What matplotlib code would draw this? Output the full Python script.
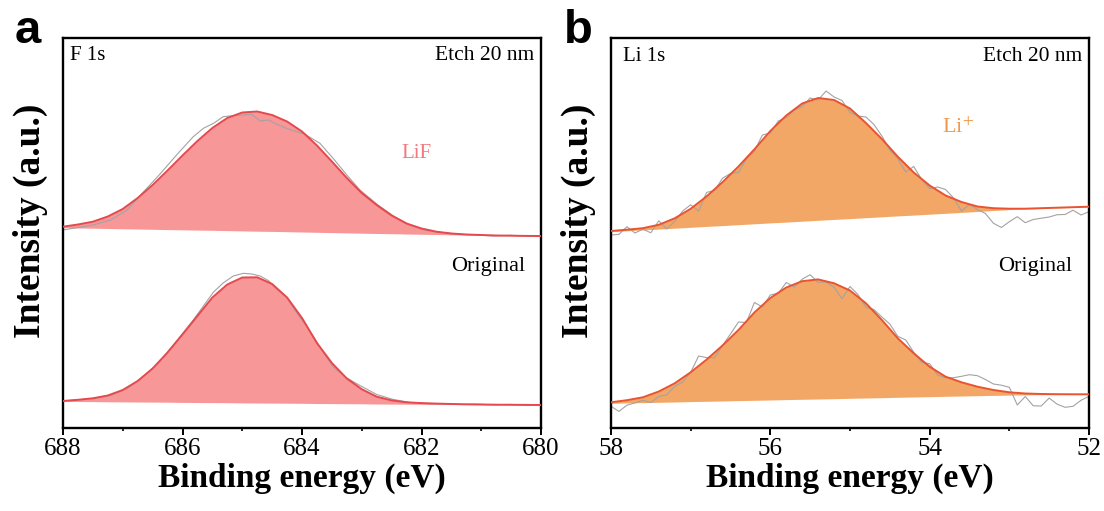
import numpy as np
import matplotlib
matplotlib.use("Agg")
import matplotlib.pyplot as plt

plt.rcParams["font.family"] = ["Liberation Serif", "DejaVu Serif"]
plt.rcParams["mathtext.fontset"] = "stix"

# ---- panel a: F 1s (binding energy in eV, intensity in arbitrary units) ----
fit_e_a = [688.0, 687.75, 687.5, 687.25, 687.0, 686.75, 686.5, 686.25, 686.0, 685.75,
           685.5, 685.25, 685.0, 684.75, 684.5, 684.25, 684.0, 683.75, 683.5, 683.25,
           683.0, 682.75, 682.5, 682.25, 682.0, 681.75, 681.5, 681.25, 681.0, 680.75,
           680.5, 680.25, 680.0]
fit_etch_a = [201.3, 203.5, 206.3, 211.5, 219, 230, 243, 257.5, 272.5, 287,
              300, 310, 315.5, 316.5, 313, 306.5, 296.5, 282.5, 266.5, 250,
              235, 223, 212.5, 204.5, 199.5, 196.3, 194.5, 193.5, 193, 192.5,
              192.3, 192.1, 192]
base_etch_a = [200.3, 200.0, 199.8, 199.5, 199.2, 199.0, 198.7, 198.4, 198.2, 197.9,
               197.7, 197.4, 197.1, 196.8, 196.6, 196.3, 196.0, 195.7, 195.4, 195.1,
               194.8, 194.5, 194.3, 194.0, 193.7, 193.5, 193.2, 193.0, 192.8, 192.6,
               192.4, 192.2, 192]
fit_orig_a = [27, 28.2, 29.7, 32.5, 38, 47, 59.5, 75.5, 93.5, 112,
              130.5, 143.5, 150.5, 150.7, 144, 130.5, 110, 85, 65, 49.5,
              38.8, 31.3, 27.6, 25.7, 24.9, 24.4, 24, 23.7, 23.5, 23.3,
              23.2, 23.1, 23]
base_orig_a = [26.6, 26.5, 26.4, 26.2, 26.1, 26.0, 25.9, 25.8, 25.6, 25.5,
               25.4, 25.3, 25.1, 25.0, 24.9, 24.8, 24.7, 24.5, 24.4, 24.3,
               24.2, 24.0, 23.9, 23.8, 23.7, 23.6, 23.5, 23.4, 23.3, 23.2,
               23.1, 23.05, 23]

raw_e_a = [688.0, 687.5, 687.2, 686.93, 686.66, 686.38, 686.1, 685.82, 685.65, 685.48,
           685.32, 685.15, 684.98, 684.84, 684.7, 684.56, 684.42, 684.26, 684.09, 683.95,
           683.7, 683.48, 683.25, 683.03, 682.75, 682.47, 682.19, 681.91, 681.64, 681.36,
           681.08, 680.8, 680.52, 680.24, 680.02]
raw_etch_a = [198, 203, 208, 218, 235.7, 253.7, 273, 291.3, 299.7, 304.7,
              311.3, 312.3, 313, 313.7, 307, 308, 303.7, 299.7, 296.3, 293.7,
              284.7, 269.7, 253, 238, 224, 212, 202.7, 197.3, 195.3, 193.7,
              193, 192, 192.7, 192, 192.3]
raw_orig_a = [27, 29.5, 32.5, 39.5, 51, 66.5, 87, 108, 122, 136,
              145, 152, 154.7, 154, 152, 147.3, 138.5, 131, 115, 104,
              81, 61, 50, 42.5, 33.5, 28.5, 25.5, 24.5, 24.2, 23.5,
              23.8, 23.2, 23.6, 23, 23.3]

# ---- panel b: Li 1s ----
fit_e_b = [58.0, 57.8, 57.6, 57.4, 57.2, 57.0, 56.8, 56.6, 56.4, 56.2,
           56.0, 55.8, 55.6, 55.4, 55.2, 55.0, 54.8, 54.6, 54.4, 54.2,
           54.0, 53.8, 53.6, 53.4, 53.2, 53.0, 52.8, 52.6, 52.4, 52.2, 52.0]
fit_etch_b = [197, 198.3, 199.8, 203.2, 209.7, 219.2, 231.6, 245.8, 261.5, 278.7,
              297, 312.5, 324.5, 330, 328, 319.5, 305, 289, 271.3, 255.5,
              242.5, 232.5, 226, 221.5, 219.8, 219.3, 219.3, 219.8, 220.3, 220.8, 221.3]
base_etch_b = [196.3, 197.2, 198.1, 198.9, 199.8, 200.7, 201.6, 202.4, 203.3, 204.2,
               205.1, 205.9, 206.8, 207.7, 208.6, 209.4, 210.3, 211.2, 212.1, 212.9,
               213.8, 214.7, 215.6, 216.5, 217.5, 218.4, 219.0, 219.6, 220.1, 220.6, 221.1]
fit_orig_b = [25.7, 27.8, 30.7, 36.5, 44.7, 55.7, 68.4, 82.5, 98, 115.5,
              130, 140.5, 146.8, 148.6, 144.7, 137.5, 124.7, 108, 89.7, 74.7,
              61.3, 51.3, 45.7, 41.3, 38, 35.7, 34.5, 34, 33.8, 33.7, 33.7]
base_orig_b = [24.7, 25.0, 25.4, 25.7, 26.0, 26.4, 26.7, 27.0, 27.4, 27.7,
               28.0, 28.4, 28.7, 29.0, 29.3, 29.7, 30.0, 30.3, 30.7, 31.0,
               31.3, 31.7, 32.0, 32.3, 32.6, 32.9, 33.1, 33.3, 33.4, 33.5, 33.6]

raw_e_b = [58.0, 57.9, 57.8, 57.7, 57.6, 57.5, 57.4, 57.3, 57.2, 57.1,
           57.0, 56.9, 56.8, 56.7, 56.6, 56.5, 56.4, 56.3, 56.2, 56.1,
           56.0, 55.9, 55.8, 55.7, 55.6, 55.5, 55.4, 55.3, 55.2, 55.1,
           55.0, 54.9, 54.8, 54.7, 54.6, 54.5, 54.4, 54.3, 54.2, 54.1,
           54.0, 53.9, 53.8, 53.7, 53.6, 53.5, 53.4, 53.3, 53.2, 53.1,
           53.0, 52.9, 52.8, 52.7, 52.6, 52.5, 52.4, 52.3, 52.2, 52.1, 52.0]
raw_etch_b = [193, 193.6, 201.3, 195, 198.8, 195.2, 207.2, 199, 206.7, 217,
              223.2, 217, 235.6, 237.5, 249.8, 254.5, 255.5, 269, 276.7, 293,
              295, 307, 310.5, 318, 321.5, 330, 328, 337, 331, 327.5,
              315.5, 312, 311, 303.5, 292, 278, 269.3, 256, 261.5, 248.5,
              239.5, 241, 238.5, 230, 217, 223.5, 218.5, 214.5, 204.8, 200.5,
              206.3, 211.3, 205.3, 208.5, 209.8, 211, 213.3, 213.5, 217.8, 213, 216.3]
raw_orig_b = [21.7, 16.6, 22.8, 25.1, 27.7, 25.3, 31.5, 33.3, 41.7, 46,
              55.7, 72, 70.4, 70.3, 82.5, 94, 106, 105.5, 125.5, 121,
              133, 134.8, 145.5, 141, 148.8, 153.3, 145.6, 146.2, 140.7, 129.3,
              141.5, 133.5, 120.7, 118.5, 111, 104, 91.7, 88, 75.7, 65.7,
              64.3, 53, 50.3, 50.3, 51.7, 53.3, 52.3, 48.5, 44, 42.8,
              40.7, 23, 31.5, 22.2, 22, 29.9, 23.8, 20.7, 21.7, 27.7, 31.7]

fig = plt.figure(figsize=(11.04, 5.11), dpi=100)
ax_a = fig.add_axes([63 / 1104, 83 / 511, 478 / 1104, 390 / 511])
ax_b = fig.add_axes([611 / 1104, 83 / 511, 478 / 1104, 390 / 511])

panels = [
    (ax_a, fit_e_a, [(fit_etch_a, base_etch_a), (fit_orig_a, base_orig_a)],
     raw_e_a, [raw_etch_a, raw_orig_a], "#F89797", "#E5484D", (688, 680), [688, 686, 684, 682, 680]),
    (ax_b, fit_e_b, [(fit_etch_b, base_etch_b), (fit_orig_b, base_orig_b)],
     raw_e_b, [raw_etch_b, raw_orig_b], "#F3A766", "#E9532F", (58, 52), [58, 56, 54, 52]),
]

for ax, fe, fits, re_, raws, fill_c, line_c, xlim, ticks in panels:
    for (fit, base), raw in zip(fits, raws):
        ax.fill_between(fe, base, fit, color=fill_c, lw=0, zorder=1)
        ax.plot(re_, raw, color="#A3A3A3", lw=0.8, zorder=2)
        ax.plot(fe, fit, color=line_c, lw=1.4, zorder=3)
    ax.set_xlim(*xlim)
    ax.set_ylim(0, 390)
    ax.set_xticks(ticks)
    ax.set_xticks(np.arange(min(xlim), max(xlim) + 1, 1), minor=True)
    ax.set_yticks([])
    ax.tick_params(axis="x", which="major", direction="out", length=5, width=1.4,
                   labelsize=18, pad=2)
    ax.tick_params(axis="x", which="minor", direction="out", length=2.5, width=1.2)
    for s in ax.spines.values():
        s.set_linewidth(1.7)
    ax.set_xlabel("Binding energy (eV)", fontsize=24, fontweight="bold", labelpad=2)
    ax.set_ylabel("Intensity (a.u.)", fontsize=27, fontweight="bold")
    ax.yaxis.set_label_coords(-0.032, 0.53)

ax_a.text(0.015, 0.955, "F 1s", transform=ax_a.transAxes, fontsize=15, va="center", ha="left")
ax_a.text(0.985, 0.955, "Etch 20 nm", transform=ax_a.transAxes, fontsize=15.5, va="center", ha="right")
ax_a.text(0.74, 0.705, "LiF", transform=ax_a.transAxes, fontsize=15, color="#F07A7F",
          va="center", ha="center")
ax_a.text(0.968, 0.415, "Original", transform=ax_a.transAxes, fontsize=16, va="center", ha="right")

ax_b.text(0.025, 0.952, "Li 1s", transform=ax_b.transAxes, fontsize=15, va="center", ha="left")
ax_b.text(0.985, 0.952, "Etch 20 nm", transform=ax_b.transAxes, fontsize=15.5, va="center", ha="right")
ax_b.text(0.725, 0.77, "Li$^{+}$", transform=ax_b.transAxes, fontsize=16, color="#EE9B4E",
          va="center", ha="center")
ax_b.text(0.965, 0.415, "Original", transform=ax_b.transAxes, fontsize=16, va="center", ha="right")

fig.text(15 / 1104, 1 - 43 / 511, "a", fontsize=34, fontweight="bold",
         family=["Liberation Sans", "DejaVu Sans"], va="baseline", ha="left")
fig.text(564 / 1104, 1 - 43 / 511, "b", fontsize=34, fontweight="bold",
         family=["Liberation Sans", "DejaVu Sans"], va="baseline", ha="left")

fig.savefig("out.png", dpi=100)
